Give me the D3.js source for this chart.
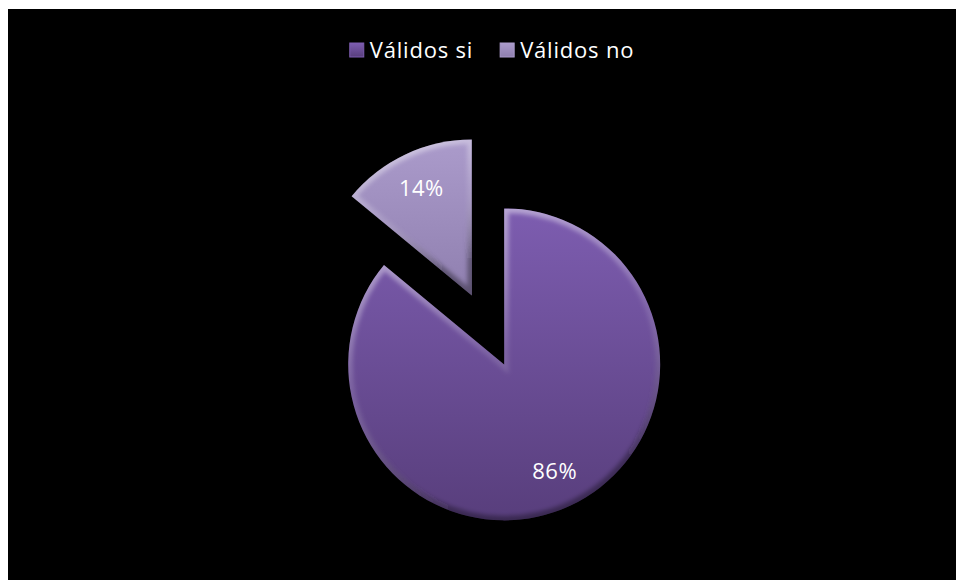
<!DOCTYPE html>
<html>
<head>
<meta charset="utf-8">
<script src="https://cdn.jsdelivr.net/npm/d3@7"></script>
<style>
  body { margin: 0; background: #fff; }
  svg { display: block; }
</style>
</head>
<body>
<div id="chart"></div>
<script>
// data
const categories = ['Válidos si', 'Válidos no'];
const values = [86, 14];
const labels = ['86%', '14%'];

// styles
const sliceColors = [['#7d5db0', '#583e7c'], ['#ab9bcb', '#8f7faf']];
const width = 956;
const height = 580;

const svg = d3.select('#chart')
    .append('svg')
    .attr('width', width)
    .attr('height', height);

const defs = svg.append('defs');

// black chart area (white strip on top/left)
svg.append('rect')
    .attr('x', 8)
    .attr('y', 9)
    .attr('width', width - 8)
    .attr('height', height - 9)
    .attr('fill', '#000');

const data = categories.map((c, i) => ({ name: c, value: values[i], label: labels[i], i }));

// gradients for the slices
sliceColors.forEach(([top, bottom], i) => {
    const g = defs.append('linearGradient')
        .attr('id', `grad-${i}`)
        .attr('x1', 0).attr('y1', 0).attr('x2', 0).attr('y2', 1);
    g.append('stop').attr('offset', '0%').attr('stop-color', top);
    g.append('stop').attr('offset', '100%').attr('stop-color', bottom);
});

const rim = defs.append('linearGradient')
    .attr('id', 'rim')
    .attr('x1', 0).attr('y1', 0).attr('x2', 0.3).attr('y2', 1);
rim.append('stop').attr('offset', '0%').attr('stop-color', '#fff').attr('stop-opacity', 0.55);
rim.append('stop').attr('offset', '55%').attr('stop-color', '#fff').attr('stop-opacity', 0.12);
rim.append('stop').attr('offset', '100%').attr('stop-color', '#000').attr('stop-opacity', 0.35);

defs.append('filter')
    .attr('id', 'soft')
    .append('feGaussianBlur')
    .attr('stdDeviation', 2);

// pie
const cx = 488;
const cy = 330;
const radius = 156;
const explode = 38;

const pie = d3.pie().sort(null).value(d => d.value);
const arc = d3.arc().innerRadius(0).outerRadius(radius);
const labelArc = d3.arc().innerRadius(radius * 0.52).outerRadius(radius);

const arcs = pie(data);

const slices = svg.append('g')
    .attr('class', 'slices')
    .attr('transform', `translate(${cx},${cy})`)
    .selectAll('g')
    .data(arcs)
    .join('g')
    .attr('transform', d => {
        const mid = (d.startAngle + d.endAngle) / 2;
        return `translate(${Math.sin(mid) * explode},${-Math.cos(mid) * explode})`;
    });

slices.append('clipPath')
    .attr('id', d => `clip-${d.data.i}`)
    .append('path')
    .attr('d', arc);

slices.append('path')
    .attr('d', arc)
    .attr('fill', d => `url(#grad-${d.data.i})`);

// soft bevel along the edges
slices.append('g')
    .attr('clip-path', d => `url(#clip-${d.data.i})`)
    .append('path')
    .attr('d', arc)
    .attr('fill', 'none')
    .attr('stroke', 'url(#rim)')
    .attr('stroke-width', 9)
    .attr('filter', 'url(#soft)');

slices.append('text')
    .attr('transform', d => `translate(${labelArc.centroid(d)})`)
    .attr('text-anchor', 'middle')
    .attr('dy', '0.35em')
    .attr('fill', '#fff')
    .style('font-family', '"Open Sans", sans-serif')
    .style('font-size', '22px')
    .style('letter-spacing', '0.5px')
    .text(d => d.data.label);

// legend
const legend = svg.append('g').attr('class', 'legend');
const items = legend.selectAll('g')
    .data(data)
    .join('g');

items.append('rect')
    .attr('width', 14)
    .attr('height', 14)
    .attr('y', -7)
    .attr('fill', d => `url(#grad-${d.i})`)
    .attr('stroke', d => sliceColors[d.i][0])
    .attr('stroke-width', 1);

items.append('text')
    .attr('x', 20)
    .attr('dy', '0.35em')
    .attr('fill', '#fff')
    .style('font-family', '"Open Sans", sans-serif')
    .style('font-size', '22px')
    .style('letter-spacing', '0.8px')
    .text(d => d.name);

let x = 0;
items.each(function () {
    d3.select(this).attr('transform', `translate(${x},0)`);
    x += this.getBBox().width + 27;
});
const legendWidth = x - 27;
legend.attr('transform', `translate(${492 - legendWidth / 2},50)`);
</script>
</body>
</html>
